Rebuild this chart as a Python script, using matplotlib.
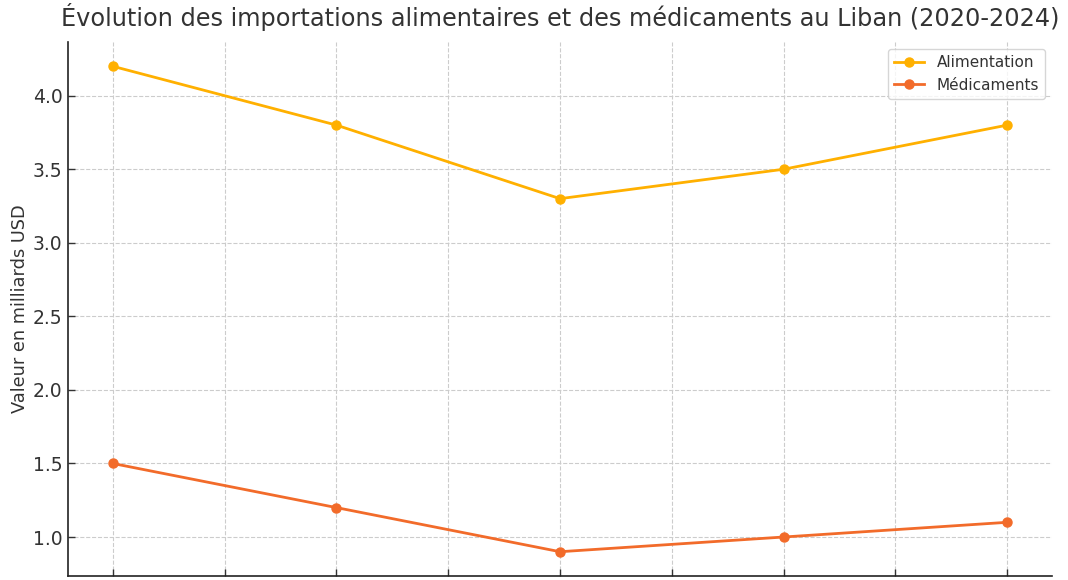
import matplotlib
matplotlib.use("Agg")
import matplotlib.pyplot as plt

years = [2020, 2021, 2022, 2023, 2024]
alimentation = [4.2, 3.8, 3.3, 3.5, 3.8]
medicaments = [1.5, 1.2, 0.9, 1.0, 1.1]
title = "Évolution des importations alimentaires et des médicaments au Liban (2020-2024)"
ylabel = "Valeur en milliards USD"

plt.rcParams['font.family'] = ['DejaVu Sans']
text_color = "#333333"

fig = plt.figure(figsize=(10.68, 5.8), dpi=100)
ax = fig.add_axes([0.0637, 0.0069, 0.9213, 0.9207])

ax.plot(years, alimentation, marker='o', color='#FFB000', linewidth=2, markersize=6.5, label='Alimentation')
ax.plot(years, medicaments, marker='o', color='#F26B2A', linewidth=2, markersize=6.5, label='Médicaments')

ax.set_xticks([2020, 2020.5, 2021, 2021.5, 2022, 2022.5, 2023, 2023.5, 2024])
ax.set_yticks([1.0, 1.5, 2.0, 2.5, 3.0, 3.5, 4.0])
ax.grid(True, linestyle='--', color='#cccccc', linewidth=0.8)
ax.tick_params(direction='in', length=5, width=1, labelsize=13.5, colors=text_color)
ax.tick_params(axis='y', pad=4)
ax.tick_params(axis='x', labelbottom=False)
for s in ['top', 'right']:
    ax.spines[s].set_visible(False)
for s in ['left', 'bottom']:
    ax.spines[s].set_color('#222222')
    ax.spines[s].set_linewidth(1.2)

ax.set_ylabel(ylabel, fontsize=12.8, color=text_color, labelpad=3)
fig.suptitle(title, fontsize=17.25, color=text_color, x=0.525, y=0.995, va='top')

leg = ax.legend(loc='upper right', fontsize=11, frameon=True, edgecolor='#cccccc', borderaxespad=0.45)
for t in leg.get_texts():
    t.set_color(text_color)

fig.savefig("out.png", dpi=100)
